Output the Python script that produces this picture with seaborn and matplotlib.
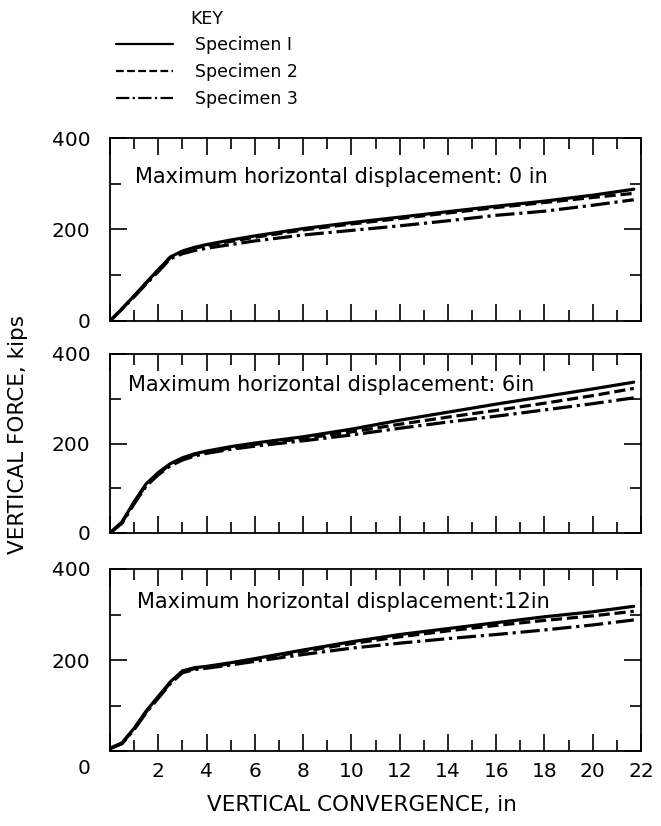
import numpy as np
import pandas as pd
import matplotlib
matplotlib.use("Agg")
import matplotlib.pyplot as plt
import seaborn as sns
from matplotlib.lines import Line2D
from matplotlib.ticker import MultipleLocator
from matplotlib.transforms import ScaledTranslation

# vertical convergence (in), shared by all curves
convergence = [0, 0.5, 1, 1.5, 2, 2.5, 3, 3.5, 4, 5, 6, 8, 10, 12, 14, 16, 18, 20, 21.7]

# vertical force (kips), max horizontal displacement 0 in
disp0_s1 = [0, 27, 55, 84, 112, 140, 153, 161, 167, 177, 186, 202, 215, 227, 239, 251, 262, 275, 288]
disp0_s2 = [0, 27, 54, 83, 111, 139, 151, 159, 165, 174, 183, 199, 212, 224, 236, 248, 259, 270, 279]
disp0_s3 = [0, 26, 53, 81, 108, 136, 147, 154, 159, 167, 175, 188, 198, 208, 219, 231, 240, 253, 265]

# max horizontal displacement 6 in
disp6_s1 = [0, 25, 70, 110, 135, 155, 168, 177, 183, 193, 201, 215, 232, 252, 270, 288, 305, 322, 337]
disp6_s2 = [0, 24, 68, 108, 133, 153, 166, 175, 181, 190, 198, 211, 226, 243, 259, 274, 290, 307, 323]
disp6_s3 = [0, 22, 65, 105, 130, 150, 163, 172, 178, 187, 194, 206, 219, 234, 248, 261, 275, 289, 302]

# max horizontal displacement 12 in
disp12_s1 = [6, 18, 50, 88, 120, 152, 176, 183, 186, 194, 203, 222, 240, 256, 269, 282, 295, 306, 318]
disp12_s2 = [6, 17, 49, 86, 118, 150, 174, 181, 184, 192, 201, 219, 236, 251, 264, 276, 287, 297, 307]
disp12_s3 = [5, 16, 47, 84, 116, 148, 172, 179, 182, 189, 197, 212, 226, 237, 247, 256, 266, 277, 288]

specimens = ["Specimen I", "Specimen 2", "Specimen 3"]
panel_titles = [
    "Maximum horizontal displacement: 0 in",
    "Maximum horizontal displacement: 6in",
    "Maximum horizontal displacement:12in",
]
panels = [
    [disp0_s1, disp0_s2, disp0_s3],
    [disp6_s1, disp6_s2, disp6_s3],
    [disp12_s1, disp12_s2, disp12_s3],
]

rows = []
for p, series in enumerate(panels):
    for name, vals in zip(specimens, series):
        for x, y in zip(convergence, vals):
            rows.append({"panel": p, "specimen": name, "x": x, "y": y})
df = pd.DataFrame(rows)

sns.set_style("ticks")
plt.rcParams["font.family"] = ["DejaVu Sans"]
for key in ["text.color", "axes.labelcolor", "xtick.color", "ytick.color", "axes.edgecolor"]:
    plt.rcParams[key] = "black"

dash_map = {"Specimen I": "", "Specimen 2": (3.5, 1.5), "Specimen 3": (6, 1.5, 1, 1.5)}

W, H = 661, 826
fig = plt.figure(figsize=(W / 100, H / 100), dpi=100)

# axes boxes in pixels: (top, bottom)
boxes = [(138, 321), (354, 533), (569, 751)]
left_px, right_px = 110, 641
text_pos = [(0.047, 0.785), (0.034, 0.825), (0.05, 0.82)]

for p, (top, bot) in enumerate(boxes):
    ax = fig.add_axes([left_px / W, 1 - bot / H, (right_px - left_px) / W, (bot - top) / H])
    sns.lineplot(data=df[df.panel == p], x="x", y="y", style="specimen",
                 dashes=dash_map, color="black", linewidth=2.3, ax=ax, legend=False)
    ax.set_xlim(0, 22)
    ax.set_ylim(0, 400)
    ax.xaxis.set_major_locator(MultipleLocator(2))
    ax.xaxis.set_minor_locator(MultipleLocator(1))
    ax.yaxis.set_minor_locator(MultipleLocator(100))
    ax.tick_params(which="both", direction="in", top=True, right=True,
                   width=1.2, color="black", labelsize=14.5)
    ax.tick_params(which="major", length=12)
    ax.tick_params(which="minor", length=8)
    ax.tick_params(axis="y", pad=14)
    ax.tick_params(axis="x", pad=8)
    for s in ax.spines.values():
        s.set_linewidth(1.3)
    ax.set_xlabel("")
    ax.set_ylabel("")
    ax.set_yticks([0, 200, 400])
    ax.set_yticklabels(["0", "200", "400"])
    if p < 2:
        ax.set_xticklabels([])
    else:
        ax.set_xticks(range(0, 23, 2))
        ax.set_xticklabels([""] + [str(v) for v in range(2, 23, 2)])
        # the corner "0" sits below the axis, shared by both scales
        zero = ax.get_yticklabels()[0]
        zero.set_transform(zero.get_transform()
                           + ScaledTranslation(0, -0.16, fig.dpi_scale_trans))
    ax.text(text_pos[p][0], text_pos[p][1], panel_titles[p], transform=ax.transAxes,
            fontsize=15, va="center", ha="left")

fig.text(18 / W, 1 - 435 / H, "VERTICAL FORCE, kips", rotation=90,
         ha="center", va="center", fontsize=15.5)
fig.text(362 / W, 1 - 805 / H, "VERTICAL CONVERGENCE, in",
         ha="center", va="center", fontsize=15.5)

handles = [Line2D([], [], color="black", linewidth=1.6),
           Line2D([], [], color="black", linewidth=1.6, dashes=dash_map["Specimen 2"]),
           Line2D([], [], color="black", linewidth=1.6, dashes=dash_map["Specimen 3"])]
leg = fig.legend(handles, specimens, title="KEY", loc="upper left",
                 bbox_to_anchor=(100 / W, 1 + 6 / H), frameon=False, fontsize=12.5,
                 title_fontsize=12.5, handlelength=3.3, handletextpad=1.3, labelspacing=0.5)

fig.savefig("out.png", dpi=100)
